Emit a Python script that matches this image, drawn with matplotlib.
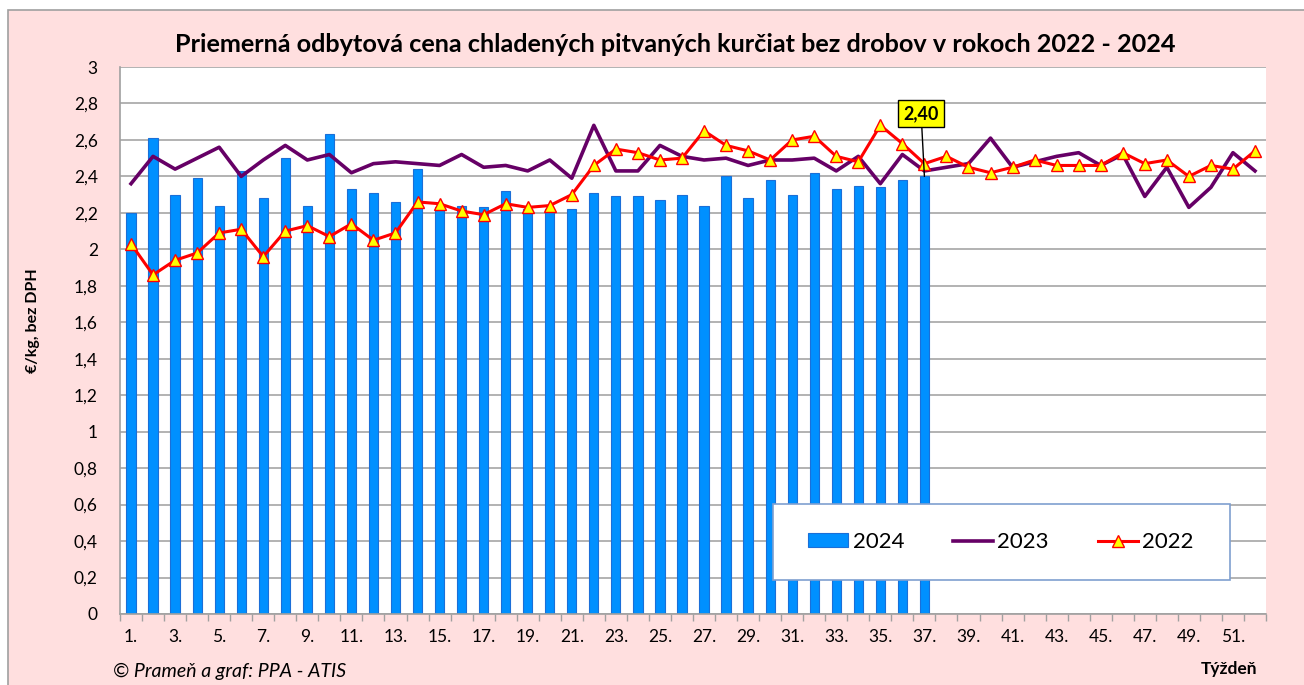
import matplotlib
matplotlib.use("Agg")
import matplotlib.pyplot as plt
from matplotlib.lines import Line2D
from matplotlib.patches import Patch, Rectangle
from matplotlib.ticker import FuncFormatter
import numpy as np

plt.rcParams["font.family"] = ["Lato", "DejaVu Sans"]

# ---------------------------------------------------------------
# data (€/kg, bez DPH) per week
# ---------------------------------------------------------------
weeks = list(range(1, 53))
week_labels = [f"{w}." for w in weeks]

price_2024 = [2.20, 2.61, 2.30, 2.39, 2.24, 2.43, 2.28, 2.50, 2.24, 2.63,
              2.33, 2.31, 2.26, 2.44, 2.23, 2.24, 2.23, 2.32, 2.22, 2.22,
              2.22, 2.31, 2.29, 2.29, 2.27, 2.30, 2.24, 2.40, 2.28, 2.38,
              2.30, 2.42, 2.33, 2.35, 2.34, 2.38, 2.40]

price_2023 = [2.36, 2.51, 2.44, 2.50, 2.56, 2.40, 2.49, 2.57, 2.49, 2.52,
              2.42, 2.47, 2.48, 2.47, 2.46, 2.52, 2.45, 2.46, 2.43, 2.49,
              2.39, 2.68, 2.43, 2.43, 2.57, 2.51, 2.49, 2.50, 2.46, 2.49,
              2.49, 2.50, 2.43, 2.51, 2.36, 2.52, 2.43, 2.45, 2.47, 2.61,
              2.45, 2.48, 2.51, 2.53, 2.46, 2.52, 2.29, 2.45, 2.23, 2.34,
              2.53, 2.43]

price_2022 = [2.03, 1.86, 1.94, 1.98, 2.09, 2.11, 1.96, 2.10, 2.13, 2.07,
              2.14, 2.05, 2.09, 2.26, 2.25, 2.21, 2.19, 2.25, 2.23, 2.24,
              2.30, 2.46, 2.55, 2.53, 2.49, 2.50, 2.65, 2.57, 2.54, 2.49,
              2.60, 2.62, 2.51, 2.48, 2.68, 2.58, 2.47, 2.51, 2.45, 2.42,
              2.45, 2.49, 2.46, 2.46, 2.46, 2.53, 2.47, 2.49, 2.40, 2.46,
              2.44, 2.54]

W, H = 1304, 685
pink = "#FFDFDF"
bar_blue = "#0090FF"
purple = "#660066"

fig = plt.figure(figsize=(W / 100, H / 100), dpi=100)
fig.patch.set_facecolor("white")
# pink chart area with grey border (cut by the right/bottom edges)
fig.patches.append(Rectangle((8 / W, -0.01), 1.1, 1 - 10 / H + 0.01,
                             transform=fig.transFigure, facecolor=pink,
                             edgecolor="#A0A0A0", linewidth=1.2, zorder=-5))

ax = fig.add_axes([120 / W, 1 - 614 / H, (1266 - 120) / W, (614 - 67) / H])
ax.set_facecolor("white")

x24 = weeks[:len(price_2024)]
ax.bar(x24, price_2024, width=0.42, color=bar_blue, edgecolor="#1B6FD8",
       linewidth=0.8, zorder=2)
ax.plot(weeks, price_2023, color=purple, linewidth=2.6, zorder=3)
ax.plot(weeks, price_2022, color="red", linewidth=2.2, marker="^",
        markersize=8.5, markerfacecolor="yellow", markeredgecolor="red",
        markeredgewidth=1.0, zorder=4)

# label of the last 2024 value
last_w = x24[-1]
last_v = price_2024[-1]
ax.annotate(f"{last_v:.2f}".replace(".", ","), xy=(last_w, last_v),
            xytext=(last_w - 0.15, 2.745), ha="center", va="center",
            fontsize=13, fontweight="bold",
            bbox=dict(boxstyle="square,pad=0.3", fc="yellow", ec="black", lw=1),
            arrowprops=dict(arrowstyle="-", color="black", lw=1,
                            shrinkA=0, shrinkB=0),
            zorder=6)

ax.set_xlim(0.5, 52.5)
ax.set_ylim(0, 3)
ax.set_yticks(np.arange(0, 3.01, 0.2))
ax.yaxis.set_major_formatter(FuncFormatter(
    lambda v, p: f"{v:.1f}".rstrip("0").rstrip(".").replace(".", ",")))
ax.grid(axis="y", color="#A6A6A6", linewidth=1.2, zorder=0)
ax.set_axisbelow(True)

ax.set_xticks(weeks[::2])
ax.set_xticklabels(week_labels[::2])
ax.set_xticks(np.arange(0.5, 53, 1), minor=True)
ax.tick_params(axis="x", which="major", length=0, pad=11, labelsize=12.5)
ax.tick_params(axis="x", which="minor", length=5, color="#A0A0A0", width=1)
ax.tick_params(axis="y", length=0, pad=16, labelsize=12.5)

for s in ["top", "right"]:
    ax.spines[s].set_visible(False)
for s in ["left", "bottom"]:
    ax.spines[s].set_color("#A0A0A0")
    ax.spines[s].set_linewidth(1.2)

# legend with its own frame
fig.patches.append(Rectangle((773 / W, 1 - 580 / H), (1230 - 773) / W, 76 / H,
                             transform=fig.transFigure, facecolor="white",
                             edgecolor="#7F9FCF", linewidth=1.2, zorder=5))
handles = [
    Patch(facecolor=bar_blue, edgecolor="#1B6FD8", linewidth=0.8),
    Line2D([], [], color=purple, linewidth=2.6),
    Line2D([], [], color="red", linewidth=2.2, marker="^", markersize=8,
           markerfacecolor="yellow", markeredgecolor="red"),
]
leg = fig.legend(handles, ["2024", "2023", "2022"], ncol=3, frameon=False,
                 loc="center", bbox_to_anchor=(1001 / W, 1 - 542 / H),
                 fontsize=16, handlelength=1.8, handleheight=0.6,
                 handletextpad=0.2, columnspacing=2.2)
leg.set_zorder(6)

fig.text(675 / W, 1 - 45 / H,
         "Priemerná odbytová cena chladených pitvaných kurčiat bez drobov v rokoch 2022 - 2024",
         ha="center", va="center", fontsize=18.2, fontweight="bold")
fig.text(33 / W, 1 - 321 / H, "€/kg, bez DPH", rotation=90, ha="center",
         va="center", fontsize=11.5, fontweight="bold")
fig.text(113 / W, 1 - 671 / H, "© Prameň a graf: PPA - ATIS", ha="left",
         va="center", fontsize=14, style="italic")
fig.text(1229 / W, 1 - 669 / H, "Týždeň", ha="center", va="center",
         fontsize=12.5, fontweight="bold")

fig.savefig("out.png", dpi=100, facecolor=fig.get_facecolor())
